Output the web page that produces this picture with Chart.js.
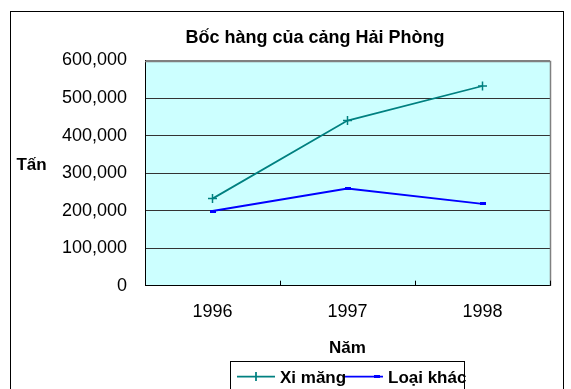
<!DOCTYPE html>
<html>
<head>
<meta charset="utf-8">
<title>Bốc hàng của cảng Hải Phòng</title>
<script src="https://cdn.jsdelivr.net/npm/chart.js@4.4.1/dist/chart.umd.min.js"></script>
<style>
  html, body { margin: 0; padding: 0; background: #ffffff; }
  canvas { display: block; }
</style>
</head>
<body>
<canvas id="chart" width="571" height="389"></canvas>
<script>
// Categories and series (tonnes)
const years = ['1996', '1997', '1998'];
const ximang = [232000, 440000, 532000];
const loaiKhac = [199000, 259000, 218000];
const seriesNames = ['Xi măng', 'Loại khác'];
const yTicks = [0, 100000, 200000, 300000, 400000, 500000, 600000];
const chartTitle = 'Bốc hàng của cảng Hải Phòng';

const FONT = 'Arial, "Liberation Sans", sans-serif';
const TEAL = '#008080';
const BLUE = '#0000ff';

// small flat rectangle marker for the second series
function rectMarker(w, h, color) {
  const c = document.createElement('canvas');
  c.width = w; c.height = h;
  const g = c.getContext('2d');
  g.fillStyle = color;
  g.fillRect(0, 0, w, h);
  return c;
}
const blueMarker = rectMarker(6, 3, BLUE);

// frame, plot background, inner ticks, titles and legend
const decor = {
  id: 'decor',
  beforeDraw(chart) {
    const { ctx, chartArea: a } = chart;
    ctx.save();
    ctx.fillStyle = '#ffffff';
    ctx.fillRect(0, 0, chart.width, chart.height);
    ctx.strokeStyle = '#000000';
    ctx.lineWidth = 1;
    ctx.strokeRect(10.5, 11.5, 553, 400);
    ctx.fillStyle = '#ccffff';
    ctx.fillRect(a.left, a.top, a.right - a.left, a.bottom - a.top);
    ctx.restore();
  },
  afterDatasetsDraw(chart) {
    const { ctx, chartArea: a } = chart;
    const xs = chart.scales.x;
    ctx.save();
    // plot border on top and right
    ctx.strokeStyle = '#808080';
    ctx.lineWidth = 1.5;
    ctx.beginPath();
    ctx.moveTo(a.left, Math.round(a.top) + 0.5);
    ctx.lineTo(Math.round(a.right) + 0.5, Math.round(a.top) + 0.5);
    ctx.lineTo(Math.round(a.right) + 0.5, a.bottom);
    ctx.stroke();
    // inward tick marks between categories
    ctx.strokeStyle = '#000000';
    ctx.lineWidth = 1;
    ctx.beginPath();
    for (let i = 0; i <= years.length; i++) {
      const x = Math.round(xs.getPixelForValue(i - 0.5)) + 0.5;
      ctx.moveTo(x, a.bottom);
      ctx.lineTo(x, a.bottom - 5);
    }
    ctx.stroke();
    ctx.restore();
  },
  afterDraw(chart) {
    const { ctx } = chart;
    ctx.save();
    ctx.fillStyle = '#000000';

    // chart title
    ctx.font = 'bold 18px ' + FONT;
    ctx.textAlign = 'center';
    ctx.textBaseline = 'alphabetic';
    ctx.fillText(chartTitle, 315, 43);

    // y axis title, written horizontally
    ctx.font = 'bold 17px ' + FONT;
    ctx.textBaseline = 'middle';
    ctx.fillText('Tấn', 31.5, 165);

    // legend box
    ctx.strokeStyle = '#000000';
    ctx.lineWidth = 1;
    ctx.strokeRect(230.5, 361.5, 234, 40);

    const ds = chart.data.datasets;
    const ly = 376.5;
    // first entry: line with cross marker
    ctx.strokeStyle = ds[0].borderColor;
    ctx.lineWidth = 1.75;
    ctx.beginPath();
    ctx.moveTo(237, ly); ctx.lineTo(275, ly);
    ctx.moveTo(256, ly - 4.5); ctx.lineTo(256, ly + 4.5);
    ctx.stroke();
    // second entry: line with rectangle marker
    ctx.strokeStyle = ds[1].borderColor;
    ctx.lineWidth = 1.75;
    ctx.beginPath();
    ctx.moveTo(343, ly); ctx.lineTo(383, ly);
    ctx.stroke();
    ctx.drawImage(blueMarker, 374, ly - 1.5);

    ctx.font = 'bold 17px ' + FONT;
    ctx.textAlign = 'left';
    ctx.textBaseline = 'alphabetic';
    ctx.fillText(ds[0].label, 280, 383);
    ctx.fillText(ds[1].label, 388, 383);
    ctx.restore();
  }
};

new Chart(document.getElementById('chart'), {
  type: 'line',
  data: {
    labels: years,
    datasets: [
      {
        label: seriesNames[0],
        data: ximang,
        borderColor: TEAL,
        backgroundColor: TEAL,
        borderWidth: 1.75,
        pointStyle: 'cross',
        pointRadius: 4.5,
        pointBorderWidth: 1.5,
        pointBorderColor: TEAL,
        tension: 0
      },
      {
        label: seriesNames[1],
        data: loaiKhac,
        borderColor: BLUE,
        backgroundColor: BLUE,
        borderWidth: 2,
        pointStyle: blueMarker,
        pointRadius: 3,
        tension: 0
      }
    ]
  },
  options: {
    responsive: false,
    animation: false,
    devicePixelRatio: 1,
    layout: { padding: { top: 60.5, left: 12, right: 21, bottom: 30 } },
    plugins: {
      legend: { display: false },
      tooltip: { enabled: false },
      title: { display: false }
    },
    scales: {
      x: {
        type: 'category',
        offset: true,
        afterFit(scale) { scale.height = 73.3; },
        grid: { display: false, drawTicks: false },
        border: { display: true, color: '#000000', width: 1 },
        ticks: {
          color: '#000000',
          font: { family: FONT, size: 18 },
          padding: 16,
          maxRotation: 0
        },
        title: {
          display: true,
          text: 'Năm',
          color: '#000000',
          font: { family: FONT, size: 17, weight: 'bold', lineHeight: 1.2 },
          padding: { top: 0, bottom: 0 }
        }
      },
      y: {
        min: 0,
        max: 600000,
        afterBuildTicks(scale) {
          scale.ticks = yTicks.map(v => ({ value: v }));
        },
        afterFit(scale) { scale.width = 133; },
        grid: {
          drawTicks: false,
          color: ctx => (ctx.tick && ctx.tick.value === 600000) ? '#808080' : '#333333',
          lineWidth: 1
        },
        border: { display: true, color: '#000000', width: 1 },
        ticks: {
          color: '#000000',
          font: { family: FONT, size: 18 },
          padding: 18,
          callback: v => Number(v).toLocaleString('en-US')
        }
      }
    }
  },
  plugins: [decor]
});
</script>
</body>
</html>
